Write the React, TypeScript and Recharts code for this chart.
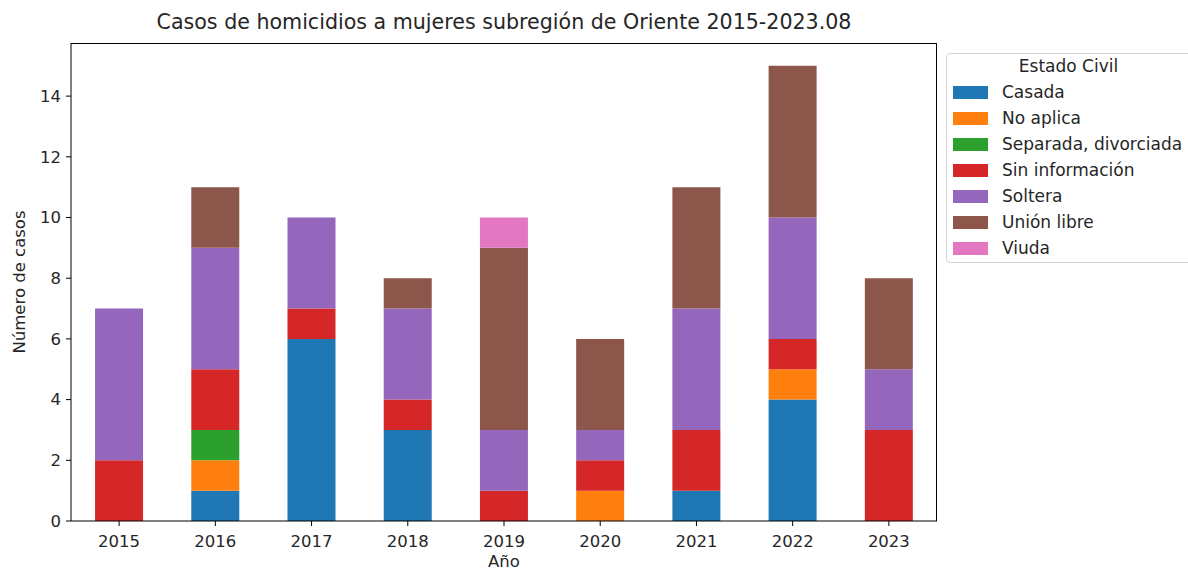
import React from "react";
import { BarChart, Bar, XAxis, YAxis } from "recharts";

const YEARS = ["2015", "2016", "2017", "2018", "2019", "2020", "2021", "2022", "2023"];

const CASADA = [0, 1, 6, 3, 0, 0, 1, 4, 0];
const NO_APLICA = [0, 1, 0, 0, 0, 1, 0, 1, 0];
const SEPARADA = [0, 1, 0, 0, 0, 0, 0, 0, 0];
const SIN_INFO = [2, 2, 1, 1, 1, 1, 2, 1, 3];
const SOLTERA = [5, 4, 3, 3, 2, 1, 4, 4, 2];
const UNION_LIBRE = [0, 2, 0, 1, 6, 3, 4, 5, 3];
const VIUDA = [0, 0, 0, 0, 1, 0, 0, 0, 0];

const Y_TICKS = [0, 2, 4, 6, 8, 10, 12, 14];

const SERIES = [
  { key: "Casada", values: CASADA, color: "#1f77b4" },
  { key: "No aplica", values: NO_APLICA, color: "#ff7f0e" },
  { key: "Separada, divorciada", values: SEPARADA, color: "#2ca02c" },
  { key: "Sin información", values: SIN_INFO, color: "#d62728" },
  { key: "Soltera", values: SOLTERA, color: "#9467bd" },
  { key: "Unión libre", values: UNION_LIBRE, color: "#8c564b" },
  { key: "Viuda", values: VIUDA, color: "#e377c2" },
];

const data = YEARS.map((year, i) => {
  const row: Record<string, string | number> = { year };
  SERIES.forEach((s) => {
    row[s.key] = s.values[i];
  });
  return row;
});

const FONT = "'DejaVu Sans', sans-serif";
const TEXT = "#262626";

function LegendBox() {
  return (
    <div
      style={{
        position: "absolute",
        left: 946,
        top: 53,
        width: 250,
        height: 210,
        border: "1px solid #d4d4d4",
        borderRadius: 4,
        background: "#fff",
        fontFamily: FONT,
        fontSize: 17,
        color: TEXT,
        boxSizing: "border-box",
      }}
    >
      <div style={{ position: "absolute", left: 0, width: 243, top: 2, textAlign: "center", lineHeight: "20px" }}>
        Estado Civil
      </div>
      {SERIES.map((s, i) => (
        <div
          key={s.key}
          style={{ position: "absolute", left: 6, top: 28 + i * 26, height: 20, display: "flex", alignItems: "center" }}
        >
          <span style={{ display: "inline-block", width: 35, height: 13, background: s.color, marginRight: 14 }} />
          <span style={{ whiteSpace: "nowrap" }}>{s.key}</span>
        </div>
      ))}
    </div>
  );
}

export default function App() {
  return (
    <div style={{ position: "fixed", left: 0, top: 0, width: 1188, height: 570, background: "#fff", overflow: "hidden" }}>
      <div
        style={{
          position: "absolute",
          left: 71,
          width: 866,
          top: 9,
          textAlign: "center",
          fontFamily: FONT,
          fontSize: 20.6,
          color: TEXT,
          lineHeight: "26px",
        }}
      >
        Casos de homicidios a mujeres subregión de Oriente 2015-2023.08
      </div>
      <div style={{ position: "absolute", left: 0, top: 0 }}>
        <BarChart
          width={1188}
          height={570}
          data={data}
          barCategoryGap="25%"
          margin={{ top: 43, right: 251, bottom: 0, left: 11 }}
        >
          <XAxis
            dataKey="year"
            height={49}
            stroke="#000"
            tickLine={{ stroke: "#000" }}
            tickSize={5}
            tickMargin={9}
            tick={{ fill: TEXT, fontSize: 16.5, fontFamily: FONT }}
            label={{ value: "Año", position: "insideBottom", offset: 0, dy: -3, fill: TEXT, fontSize: 16.5, fontFamily: FONT }}
          />
          <YAxis
            domain={[0, 15.75]}
            ticks={Y_TICKS}
            width={60}
            stroke="#000"
            tickSize={5}
            tickMargin={5}
            tickLine={{ stroke: "#000" }}
            tick={{ fill: TEXT, fontSize: 16.5, fontFamily: FONT }}
            label={{
              value: "Número de casos",
              angle: -90,
              position: "insideLeft",
              offset: 0,
              dx: 8,
              style: { textAnchor: "middle" },
              fill: TEXT,
              fontSize: 16.5,
              fontFamily: FONT,
            }}
          />
          {SERIES.map((s) => (
            <Bar key={s.key} dataKey={s.key} stackId="a" fill={s.color} isAnimationActive={false} />
          ))}
        </BarChart>
      </div>
      <div
        style={{
          position: "absolute",
          left: 71,
          top: 43,
          width: 866,
          height: 478,
          borderTop: "1px solid #000",
          borderRight: "1px solid #000",
          boxSizing: "border-box",
          pointerEvents: "none",
        }}
      />
      <LegendBox />
    </div>
  );
}
